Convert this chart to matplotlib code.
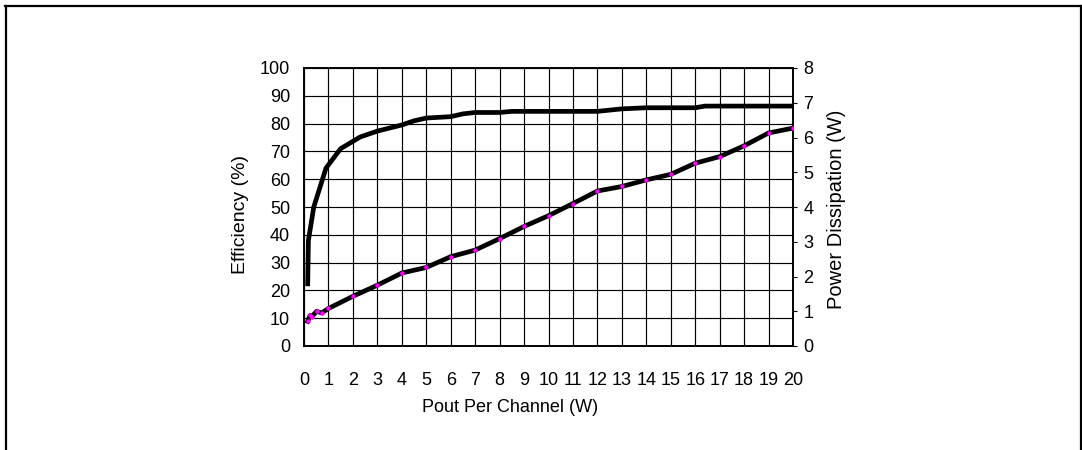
import matplotlib
matplotlib.use("Agg")
import matplotlib.pyplot as plt
from matplotlib.lines import Line2D

plt.rcParams['font.family'] = ['Liberation Sans', 'DejaVu Sans']

# Efficiency (%) vs output power per channel (W)
eff_x = [0.15, 0.18, 0.4, 0.9, 1.5, 2.3, 3.0, 4.0, 4.5, 5.0, 6.0, 6.5, 7.0, 8.0, 8.5,
         9.0, 10.0, 11.0, 12.0, 13.0, 14.0, 15.0, 16.0, 16.4, 17.0, 18.0, 19.0, 20.0]
eff_y = [21.5, 38.0, 50.0, 64.0, 71.0, 75.2, 77.3, 79.5, 81.0, 82.0, 82.5, 83.5, 84.0, 84.0, 84.4,
         84.4, 84.4, 84.4, 84.4, 85.3, 85.7, 85.7, 85.7, 86.3, 86.3, 86.3, 86.3, 86.3]

# Power dissipation (W) vs output power per channel (W)
pd_x = [0.15, 0.25, 0.31, 0.52, 0.72, 1.0, 2.0, 3.0, 4.0, 5.0, 6.0, 7.0, 8.0, 9.0,
        10.0, 11.0, 12.0, 13.0, 14.0, 15.0, 16.0, 17.0, 18.0, 19.0, 20.0]
pd_y = [0.71, 0.88, 0.84, 1.00, 0.95, 1.08, 1.43, 1.75, 2.10, 2.26, 2.57, 2.76, 3.09, 3.44,
        3.75, 4.10, 4.46, 4.59, 4.78, 4.94, 5.26, 5.45, 5.76, 6.13, 6.27]

x_ticks = list(range(0, 21))
left_ticks = list(range(0, 101, 10))
right_ticks = list(range(0, 9))

W, H = 1082, 450
L, R, T, B = 304, 793, 68, 346

fig = plt.figure(figsize=(W/100, H/100), dpi=100)
ax = fig.add_axes([L/W, 1-B/H, (R-L)/W, (B-T)/H])
ax2 = ax.twinx()

ax.set_xlim(0, 20)
ax.set_ylim(0, 100)
ax.set_xticks(x_ticks)
ax.set_yticks(left_ticks)
ax.grid(True, color='black', linewidth=0.85)
ax.set_axisbelow(True)
ax.tick_params(axis='x', length=0, pad=19, labelsize=13)
ax.tick_params(axis='y', length=0, pad=10, labelsize=13)
for s in ax.spines.values():
    s.set_linewidth(1.2)
ax.plot(eff_x, eff_y, color='black', linewidth=3.4, solid_capstyle='butt', zorder=3)

ax2.set_ylim(0, 8)
ax2.set_yticks(right_ticks)
ax2.tick_params(axis='y', length=3, pad=4.5, labelsize=13)
ax2.plot(pd_x, pd_y, color='black', linewidth=3.4, zorder=3)
ax2.plot(pd_x, pd_y, linestyle='none', marker='o', markersize=2.2,
         markerfacecolor='#ff00ff', markeredgecolor='#ff00ff', zorder=4)
for s in ax2.spines.values():
    s.set_linewidth(1.2)

ax.set_xlabel('Pout Per Channel (W)', fontsize=13)
ax.xaxis.set_label_coords((510-L)/(R-L), -(399-B)/(B-T), transform=ax.transAxes)
ax.set_ylabel('Efficiency (%)', fontsize=14)
ax.yaxis.set_label_coords(-(L-249)/(R-L), (B-215)/(B-T), transform=ax.transAxes)
ax2.set_ylabel('Power Dissipation (W)', fontsize=14.5, rotation=90)
ax2.yaxis.set_label_coords(1+(826.5-R)/(R-L), (B-209)/(B-T), transform=ax.transAxes)

# Outer frame
lw = 1.6
fig.add_artist(Line2D([5/W, 1080.5/W], [1-5.5/H, 1-5.5/H], transform=fig.transFigure, color='black', linewidth=lw))
fig.add_artist(Line2D([5.5/W, 5.5/W], [1-5.5/H, 0], transform=fig.transFigure, color='black', linewidth=lw))
fig.add_artist(Line2D([1080.5/W, 1080.5/W], [1-5.5/H, 0], transform=fig.transFigure, color='black', linewidth=lw))

fig.savefig('out.png', dpi=100)
